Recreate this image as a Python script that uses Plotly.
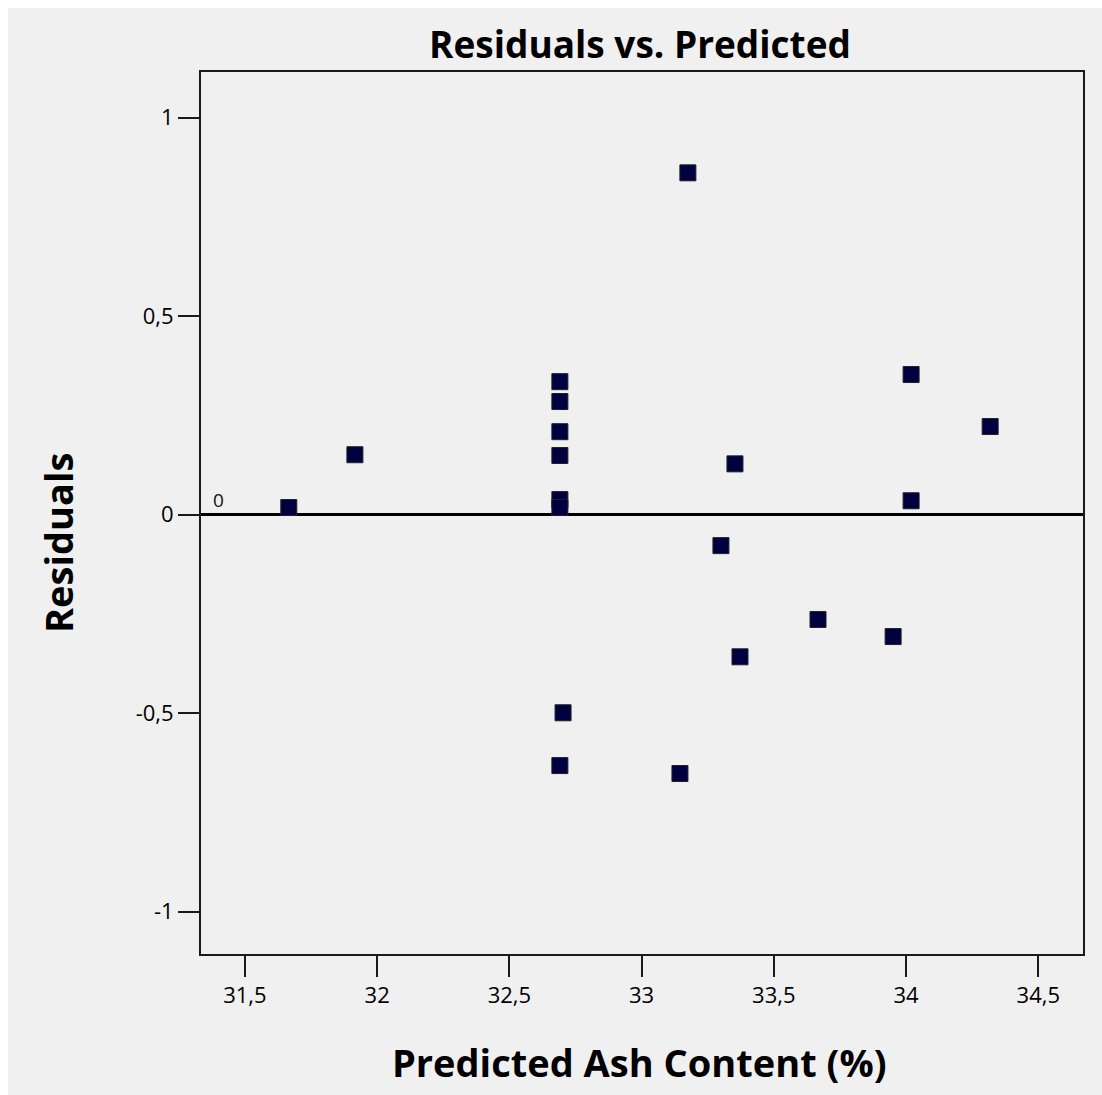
import plotly.graph_objects as go

# Predicted ash content (%) and the corresponding model residuals
predicted = [31.666, 31.916, 32.691, 32.691, 32.691, 32.691, 32.691, 32.691,
             32.703, 32.691, 33.175, 33.353, 33.300, 33.372, 33.145, 33.667,
             33.951, 34.019, 34.019, 34.318]
residuals = [0.018, 0.151, 0.335, 0.285, 0.209, 0.149, 0.038, 0.018,
             -0.499, -0.632, 0.861, 0.128, -0.078, -0.358, -0.652, -0.264,
             -0.307, 0.353, 0.035, 0.222]

x_tick_vals = [31.5, 32, 32.5, 33, 33.5, 34, 34.5]
x_tick_text = ["31,5", "32", "32,5", "33", "33,5", "34", "34,5"]
y_tick_vals = [-1, -0.5, 0, 0.5, 1]
y_tick_text = ["-1", "-0,5", "0", "0,5", "1"]

W, H = 1102, 1095
ML, MR, MT, MB = 201, 19, 72, 141
PW, PH = W - ML - MR, H - MT - MB


def px_x(px):
    return (px - ML) / PW


def px_y(py):
    return (H - MB - py) / PH


FONT = "Open Sans"
BG = "#f0f0f0"

fig = go.Figure()
fig.add_trace(go.Scatter(
    x=predicted, y=residuals, mode="markers",
    marker=dict(symbol="square", size=16, color="#000040",
                line=dict(color="#222222", width=1)),
    showlegend=False, hoverinfo="x+y",
))

axis_common = dict(
    showgrid=False, showline=True, linecolor="#1a1a1a", linewidth=2,
    mirror=True, ticks="outside", ticklen=21, tickwidth=2, tickcolor="#1a1a1a",
    tickfont=dict(family=FONT, size=22, color="#000000"),
    tickmode="array",
)

fig.update_xaxes(range=[31.334, 34.669], tickvals=x_tick_vals,
                 ticktext=x_tick_text, zeroline=False, **axis_common)
fig.update_yaxes(range=[-1.1066, 1.115], tickvals=y_tick_vals,
                 ticktext=y_tick_text, zeroline=True, zerolinecolor="#000000",
                 zerolinewidth=3, **axis_common)

annotations = [
    dict(text="<b>Residuals vs. Predicted</b>", x=px_x(640), y=px_y(44),
         font=dict(family=FONT, size=37, color="#000000")),
    dict(text="<b>Predicted Ash Content (%)</b>", x=px_x(639), y=px_y(1062),
         font=dict(family=FONT, size=38, color="#000000")),
    dict(text="<b>Residuals</b>", x=px_x(58), y=px_y(543), textangle=-90,
         font=dict(family=FONT, size=38, color="#000000")),
    dict(text="0", x=px_x(218), y=px_y(500),
         font=dict(family=FONT, size=19, color="#111111")),
]
for a in annotations:
    a.update(xref="paper", yref="paper", showarrow=False,
             xanchor="center", yanchor="middle")

# thin white frame along the top and left page edges
shapes = [
    dict(type="rect", xref="paper", yref="paper", x0=px_x(0), x1=px_x(8),
         y0=px_y(H), y1=px_y(0), fillcolor="white", line=dict(width=0)),
    dict(type="rect", xref="paper", yref="paper", x0=px_x(0), x1=px_x(W),
         y0=px_y(8), y1=px_y(0), fillcolor="white", line=dict(width=0)),
]

fig.update_layout(
    width=W, height=H,
    margin=dict(l=ML, r=MR, t=MT, b=MB, autoexpand=False),
    paper_bgcolor=BG, plot_bgcolor=BG,
    annotations=annotations, shapes=shapes,
    font=dict(family=FONT),
)

fig.write_html("out.html")
